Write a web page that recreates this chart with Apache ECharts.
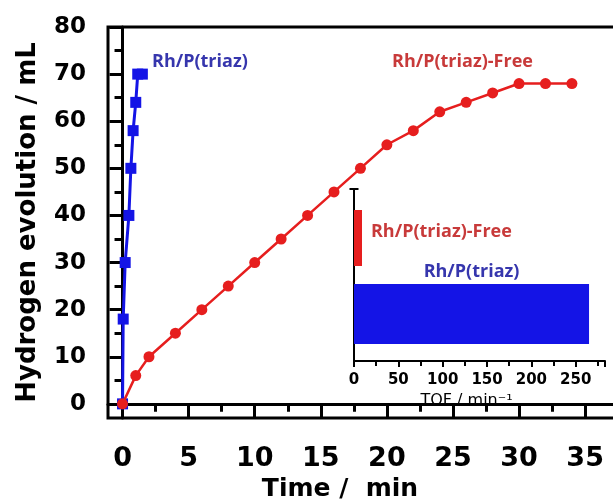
<!DOCTYPE html>
<html>
<head>
<meta charset="utf-8">
<script src="https://cdn.jsdelivr.net/npm/echarts@6/dist/echarts.min.js"></script>
<style>
  html, body { margin: 0; padding: 0; background: #fff; }
  #chart { width: 613px; height: 502px; }
</style>
</head>
<body>
<div id="chart"></div>
<script>
// Hydrogen evolved over time for the two catalysts
const triazTime   = [0, 0.05, 0.2, 0.48, 0.63, 0.8, 1.0, 1.15, 1.5];
const triazVolume = [0, 18, 30, 40, 50, 58, 64, 70, 70];

const freeTime   = [0, 1, 2, 4, 6, 8, 10, 12, 14, 16, 18, 20, 22, 24, 26, 28, 30, 32, 34];
const freeVolume = [0, 6, 10, 15, 20, 25, 30, 35, 40, 45, 50, 55, 58, 62, 64, 66, 68, 68, 68];

// Tick labels of the main axes
const timeTicks   = [0, 5, 10, 15, 20, 25, 30, 35];
const volumeTicks = [0, 10, 20, 30, 40, 50, 60, 70, 80];

// Inset: turnover frequency per catalyst
const tofCatalysts = ['Rh/P(triaz)', 'Rh/P(triaz)-Free'];
const tofValues    = [265, 9];

const BLUE = '#1414e6', RED = '#e61e1e';
const BLUE_TEXT = '#3636ad', RED_TEXT = '#c83a3a';
const NUM_FONT = 'DejaVu Sans';
const LABEL_FONT = 'Open Sans';

const zip = (xs, ys) => xs.map((x, i) => [x, ys[i]]);

const chart = echarts.init(document.getElementById('chart'), null, { renderer: 'canvas' });

chart.setOption({
  animation: false,
  backgroundColor: '#fff',
  grid: [
    { left: 108, top: 27, right: -25, bottom: 84, outerBoundsMode: 'none', containLabel: false,
      show: true, borderColor: '#000', borderWidth: 3, backgroundColor: 'transparent' },
    { left: 354, top: 189, right: 8, bottom: 141, outerBoundsMode: 'none', containLabel: false }
  ],
  xAxis: [
    {
      gridIndex: 0, type: 'value', min: -1.1, max: 39, splitNumber: 8,
      name: 'Time /  min', nameLocation: 'middle', nameGap: 57,
      // the plot runs past the right edge, so pull the title back over the visible part
      nameTextStyle: { fontFamily: NUM_FONT, fontWeight: 'bold', fontSize: 25, color: '#000', padding: [0, 66, 0, 0] },
      axisLine: { show: true, lineStyle: { color: '#000', width: 3 } },
      axisTick: { show: true, length: 14, lineStyle: { width: 3 }, customValues: timeTicks },
      minorTick: { show: true, splitNumber: 2, length: 8, lineStyle: { color: '#000', width: 3 } },
      axisLabel: { customValues: timeTicks, margin: 27, fontFamily: NUM_FONT, fontWeight: 'bold', fontSize: 27, color: '#000' },
      splitLine: { show: false }
    },
    {
      gridIndex: 1, type: 'value', min: 0, max: 283, interval: 50,
      name: 'TOF / min⁻¹', nameLocation: 'middle', nameGap: 32,
      nameTextStyle: { fontFamily: NUM_FONT, fontSize: 16, color: '#000', padding: [0, 26, 0, 0] },
      axisLine: { show: true, lineStyle: { color: '#000', width: 2 } },
      axisTick: { show: true, length: 6, lineStyle: { width: 2 } },
      minorTick: { show: true, splitNumber: 2, length: 5, lineStyle: { color: '#000', width: 2 } },
      axisLabel: { margin: 12, fontFamily: NUM_FONT, fontWeight: 'bold', fontSize: 15, color: '#000' },
      splitLine: { show: false }
    }
  ],
  yAxis: [
    {
      gridIndex: 0, type: 'value', min: -3, max: 80, splitNumber: 8,
      name: 'Hydrogen evolution / mL', nameLocation: 'middle', nameGap: 67,
      nameTextStyle: { fontFamily: NUM_FONT, fontWeight: 'bold', fontSize: 26, color: '#000' },
      axisLine: { show: true, lineStyle: { color: '#000', width: 3 } },
      axisTick: { show: true, length: 13, lineStyle: { width: 3 }, customValues: volumeTicks },
      minorTick: { show: true, splitNumber: 2, length: 8, lineStyle: { color: '#000', width: 3 } },
      axisLabel: { customValues: volumeTicks, margin: 22, fontFamily: NUM_FONT, fontWeight: 'bold', fontSize: 23, color: '#000' },
      splitLine: { show: false }
    },
    {
      gridIndex: 1, type: 'category', data: tofCatalysts,
      axisLine: { show: true, lineStyle: { color: '#000', width: 2 }, symbol: ['none', 'rect'], symbolSize: [9, 2] },
      axisTick: { show: false },
      axisLabel: { show: false },
      splitLine: { show: false }
    }
  ],
  series: [
    {
      name: 'Rh/P(triaz)', type: 'line', xAxisIndex: 0, yAxisIndex: 0,
      data: zip(triazTime, triazVolume),
      symbol: 'rect', symbolSize: 11,
      lineStyle: { color: BLUE, width: 3 },
      itemStyle: { color: BLUE },
      z: 3
    },
    {
      name: 'Rh/P(triaz)-Free', type: 'line', xAxisIndex: 0, yAxisIndex: 0,
      data: zip(freeTime, freeVolume),
      symbol: 'circle', symbolSize: 11,
      lineStyle: { color: RED, width: 2.5 },
      itemStyle: { color: RED },
      z: 4
    },
    {
      // upper slot of each band
      type: 'bar', xAxisIndex: 1, yAxisIndex: 1,
      data: [tofValues[0], '-'],
      barWidth: 60, barGap: '-80%',
      itemStyle: { color: BLUE },
      label: {
        show: true, position: 'top', distance: 3,
        formatter: () => tofCatalysts[0],
        fontFamily: LABEL_FONT, fontWeight: 'bold', fontSize: 18, color: BLUE_TEXT
      }
    },
    {
      // lower slot of each band
      type: 'bar', xAxisIndex: 1, yAxisIndex: 1,
      data: ['-', tofValues[1]],
      barWidth: 56, barGap: '-80%',
      itemStyle: { color: RED },
      label: {
        show: true, position: 'right', distance: 9, offset: [0, -6],
        formatter: () => tofCatalysts[1],
        fontFamily: LABEL_FONT, fontWeight: 'bold', fontSize: 18, color: RED_TEXT
      }
    }
  ],
  graphic: [
    {
      type: 'text', x: 152, y: 62,
      style: { text: 'Rh/P(triaz)', fill: BLUE_TEXT, font: 'bold 18px "Open Sans"', verticalAlign: 'middle', align: 'left' }
    },
    {
      type: 'text', x: 392, y: 62,
      style: { text: 'Rh/P(triaz)-Free', fill: RED_TEXT, font: 'bold 18px "Open Sans"', verticalAlign: 'middle', align: 'left' }
    }
  ]
});
</script>
</body>
</html>
